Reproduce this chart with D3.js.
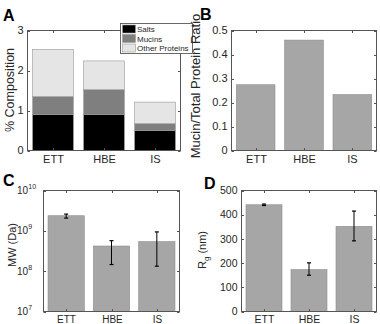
<!DOCTYPE html>
<html>
  <head>
    <meta charset="utf-8">
    <title>Mucus composition</title>
    <script src="https://cdn.jsdelivr.net/npm/d3@7"></script>
    <style>
    html, body {
        margin: 0;
        padding: 0;
        background: #fff;
    }
    svg text {
        font-family: 'Liberation Sans', Arial, sans-serif;
        fill: #262626;
    }
    .letter {
        font-weight: bold;
        font-size: 16px;
        fill: #000;
    }
    </style>
  </head>
  <body>
    <div id="vis"></div>
    <script>

      // values
      var groups = ['ETT', 'HBE', 'IS'];

      var salts = [0.9, 0.9, 0.5];
      var mucins = [0.45, 0.62, 0.17];
      var otherProteins = [1.18, 0.72, 0.54];
      var compKeys = ['Salts', 'Mucins', 'Other Proteins'];
      var compTicks = [0, 1, 2, 3];

      var mucinRatio = [0.274, 0.46, 0.233];
      var ratioTicks = [0, 0.1, 0.2, 0.3, 0.4, 0.5];

      var mwMean = [2.37e9, 4.2e8, 5.4e8];
      var mwLow = [2.07e9, 1.46e8, 1.33e8];
      var mwHigh = [2.6e9, 5.7e8, 9.4e8];
      var mwExp = [7, 8, 9, 10];

      var rgMean = [441, 173, 352];
      var rgLow = [438, 150, 292];
      var rgHigh = [444, 201, 415];
      var rgTicks = [0, 100, 200, 300, 400, 500];

      var width = 380;
      var height = 324;
      var axisColor = '#555';
      var barColor = '#a6a6a6';
      var barEdge = '#8c8c8c';

      var svg = d3.select('#vis').append('svg')
          .attr('width', width)
          .attr('height', height);

      // draws box, inward ticks and tick labels of one panel
      function frame(box, x, y, ticks, fmt, tickSize) {
          var g = svg.append('g');
          g.append('rect')
              .attr('x', box.x0).attr('y', box.y0)
              .attr('width', box.x1 - box.x0).attr('height', box.y1 - box.y0)
              .attr('fill', 'none').attr('stroke', axisColor).attr('stroke-width', 1);

          ticks.forEach(function(t) {
              var yy = Math.round(y(t)) + 0.5;
              g.append('line').attr('x1', box.x0).attr('x2', box.x0 + 2.5)
                  .attr('y1', yy).attr('y2', yy).attr('stroke', axisColor);
              g.append('line').attr('x1', box.x1).attr('x2', box.x1 - 2.5)
                  .attr('y1', yy).attr('y2', yy).attr('stroke', axisColor);
              if (fmt) {
                  g.append('text')
                      .attr('x', box.x0 - 4).attr('y', y(t) + 3.6)
                      .attr('text-anchor', 'end')
                      .style('font-size', tickSize + 'px')
                      .text(fmt(t));
              }
          });

          groups.forEach(function(d) {
              var xx = Math.round(x(d) + x.bandwidth() / 2) + 0.5;
              g.append('line').attr('x1', xx).attr('x2', xx)
                  .attr('y1', box.y1).attr('y2', box.y1 - 2.5).attr('stroke', axisColor);
              g.append('line').attr('x1', xx).attr('x2', xx)
                  .attr('y1', box.y0).attr('y2', box.y0 + 2.5).attr('stroke', axisColor);
              g.append('text')
                  .attr('x', xx).attr('y', box.y1 + box.labelDy)
                  .attr('text-anchor', 'middle')
                  .style('font-size', tickSize + 'px')
                  .text(d);
          });
          return g;
      }

      function bandScale(box) {
          return d3.scaleBand().domain(groups)
              .range([box.x0, box.x1])
              .paddingInner(0.2).paddingOuter(0.1);
      }

      function yLabel(x, y, size, text) {
          return svg.append('text')
              .attr('transform', 'translate(' + x + ',' + y + ') rotate(-90)')
              .attr('text-anchor', 'middle')
              .style('font-size', size + 'px')
              .text(text);
      }

      function errorBars(x, y, lo, hi) {
          groups.forEach(function(d, i) {
              var cx = x(d) + x.bandwidth() / 2;
              svg.append('line').attr('x1', cx).attr('x2', cx)
                  .attr('y1', y(lo[i])).attr('y2', y(hi[i]))
                  .attr('stroke', '#000').attr('stroke-width', 1);
              [lo[i], hi[i]].forEach(function(v) {
                  svg.append('line').attr('x1', cx - 2).attr('x2', cx + 2)
                      .attr('y1', y(v)).attr('y2', y(v))
                      .attr('stroke', '#000').attr('stroke-width', 1.2);
              });
          });
      }

      // ---- A: stacked composition ----
      var boxA = {x0: 27.5, x1: 180.5, y0: 30.5, y1: 150.5, labelDy: 12};
      var xA = bandScale(boxA);
      var yA = d3.scaleLinear().domain([0, 3]).range([boxA.y1, boxA.y0]);
      var compColors = d3.scaleOrdinal().domain(compKeys).range(['#000', '#7f7f7f', '#e5e5e5']);

      var compRows = groups.map(function(d, i) {
          return {group: d, 'Salts': salts[i], 'Mucins': mucins[i], 'Other Proteins': otherProteins[i]};
      });
      var stacked = d3.stack().keys(compKeys)(compRows);

      svg.append('g').selectAll('g')
          .data(stacked)
          .enter()
          .append('g')
          .attr('fill', function(s) { return compColors(s.key); })
          .selectAll('rect')
          .data(function(s) { return s; })
          .enter()
          .append('rect')
          .attr('x', function(d) { return xA(d.data.group); })
          .attr('y', function(d) { return yA(d[1]); })
          .attr('width', xA.bandwidth())
          .attr('height', function(d) { return yA(d[0]) - yA(d[1]); })
          .attr('stroke', '#999')
          .attr('stroke-width', 0.6);

      frame(boxA, xA, yA, compTicks, d3.format('d'), 11);
      yLabel(13.5, 90, 12.5, '% Composition');

      // legend
      var leg = svg.append('g').attr('transform', 'translate(120.5,23.5)');
      leg.append('rect').attr('width', 72).attr('height', 30)
          .attr('fill', '#fff').attr('stroke', '#444').attr('stroke-width', 0.8);
      compKeys.forEach(function(k, i) {
          leg.append('rect')
              .attr('x', 2).attr('y', 1.5 + i * 9.5)
              .attr('width', 13).attr('height', 8)
              .attr('fill', compColors(k)).attr('stroke', '#999').attr('stroke-width', 0.6);
          leg.append('text')
              .attr('x', 16.5).attr('y', 8.5 + i * 9.5)
              .style('font-size', '8px')
              .text(k);
      });

      // ---- B: mucin / total protein ratio ----
      var boxB = {x0: 231.5, x1: 376.5, y0: 30.5, y1: 150.5, labelDy: 12};
      var xB = bandScale(boxB);
      var yB = d3.scaleLinear().domain([0, 0.5]).range([boxB.y1, boxB.y0]);

      svg.append('g').selectAll('rect')
          .data(mucinRatio)
          .enter()
          .append('rect')
          .attr('x', function(d, i) { return xB(groups[i]); })
          .attr('y', function(d) { return yB(d); })
          .attr('width', xB.bandwidth())
          .attr('height', function(d) { return yB(0) - yB(d); })
          .attr('fill', barColor).attr('stroke', barEdge).attr('stroke-width', 0.6);

      frame(boxB, xB, yB, ratioTicks, function(t) { return t === 0 ? '0' : d3.format('.1f')(t); }, 11);
      yLabel(199.5, 86, 13, 'Mucin/Total Protein Ratio');

      // ---- C: molecular weight, log axis ----
      var boxC = {x0: 43.5, x1: 179.5, y0: 190.5, y1: 311.5, labelDy: 11};
      var xC = bandScale(boxC);
      var yC = d3.scaleLog().domain([1e7, 1e10]).range([boxC.y1, boxC.y0]);

      svg.append('g').selectAll('rect')
          .data(mwMean)
          .enter()
          .append('rect')
          .attr('x', function(d, i) { return xC(groups[i]); })
          .attr('y', function(d) { return yC(d); })
          .attr('width', xC.bandwidth())
          .attr('height', function(d) { return boxC.y1 - yC(d); })
          .attr('fill', barColor).attr('stroke', barEdge).attr('stroke-width', 0.6);
      errorBars(xC, yC, mwLow, mwHigh);

      frame(boxC, xC, yC, mwExp.map(function(e) { return Math.pow(10, e); }), null, 10);
      mwExp.forEach(function(e) {
          var yy = yC(Math.pow(10, e));
          svg.append('text').attr('x', 28).attr('y', yy + 3.5)
              .attr('text-anchor', 'end').style('font-size', '10px').text('10');
          svg.append('text').attr('x', 28.3).attr('y', yy - 1.5)
              .style('font-size', '7px').text(e);
      });
      yLabel(16, 245, 11, 'MW (Da)');

      // ---- D: radius of gyration ----
      var boxD = {x0: 241.5, x1: 376.5, y0: 190.5, y1: 311.5, labelDy: 11};
      var xD = bandScale(boxD);
      var yD = d3.scaleLinear().domain([0, 500]).range([boxD.y1, boxD.y0]);

      svg.append('g').selectAll('rect')
          .data(rgMean)
          .enter()
          .append('rect')
          .attr('x', function(d, i) { return xD(groups[i]); })
          .attr('y', function(d) { return yD(d); })
          .attr('width', xD.bandwidth())
          .attr('height', function(d) { return yD(0) - yD(d); })
          .attr('fill', barColor).attr('stroke', barEdge).attr('stroke-width', 0.6);
      errorBars(xD, yD, rgLow, rgHigh);

      frame(boxD, xD, yD, rgTicks, d3.format('d'), 10.5);
      var rg = svg.append('text')
          .attr('transform', 'translate(206,250) rotate(-90)')
          .attr('text-anchor', 'middle')
          .style('font-size', '11px');
      rg.append('tspan').text('R');
      rg.append('tspan').attr('dy', 3).style('font-size', '8px').text('g');
      rg.append('tspan').attr('dy', -3).text(' (nm)');

      // panel letters
      var letters = [['A', 3, 21], ['B', 200, 20], ['C', 3, 186], ['D', 204, 189]];
      letters.forEach(function(l) {
          svg.append('text').attr('class', 'letter')
              .attr('x', l[1]).attr('y', l[2]).text(l[0]);
      });

    </script>
  </body>
</html>
